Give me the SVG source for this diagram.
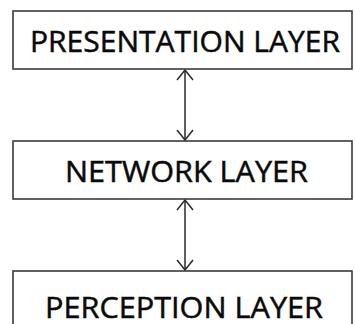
<svg xmlns="http://www.w3.org/2000/svg" width="355" height="324" viewBox="0 0 355 324">
  <style>
    .box { fill: #ffffff; stroke: #3a3a3a; stroke-width: 1.6; }
    .label { font-family: "Open Sans", "Liberation Sans", sans-serif; font-size: 30px; fill: #0a0a0a; stroke: #0a0a0a; stroke-width: 0.5; text-anchor: middle; }
    .link { stroke: #2a2a2a; stroke-width: 1.5; fill: none; }
  </style>
  <defs>
    <marker id="head" viewBox="0 0 12 20" refX="11" refY="10" markerWidth="12" markerHeight="20" markerUnits="userSpaceOnUse" orient="auto-start-reverse">
      <path d="M1,2 L11,10 L1,18" fill="none" stroke="#2a2a2a" stroke-width="1.5"/>
    </marker>
  </defs>
  <rect width="355" height="324" fill="#ffffff"/>

  <g id="connectors">
    <line class="link" x1="185" y1="70" x2="185" y2="140" marker-start="url(#head)" marker-end="url(#head)"/>
    <line class="link" x1="185" y1="200" x2="185" y2="270" marker-start="url(#head)" marker-end="url(#head)"/>
  </g>

  <g id="presentation-layer">
    <rect class="box" x="13" y="11" width="339" height="58"/>
    <text class="label" x="185" y="52" textLength="310" lengthAdjust="spacingAndGlyphs">PRESENTATION LAYER</text>
  </g>

  <g id="network-layer">
    <rect class="box" x="13" y="141" width="339" height="58"/>
    <text class="label" x="186.5" y="182" textLength="243" lengthAdjust="spacingAndGlyphs">NETWORK LAYER</text>
  </g>

  <g id="perception-layer">
    <rect class="box" x="13" y="271" width="339" height="70"/>
    <text class="label" x="184" y="318" textLength="278" lengthAdjust="spacingAndGlyphs">PERCEPTION LAYER</text>
  </g>
</svg>
